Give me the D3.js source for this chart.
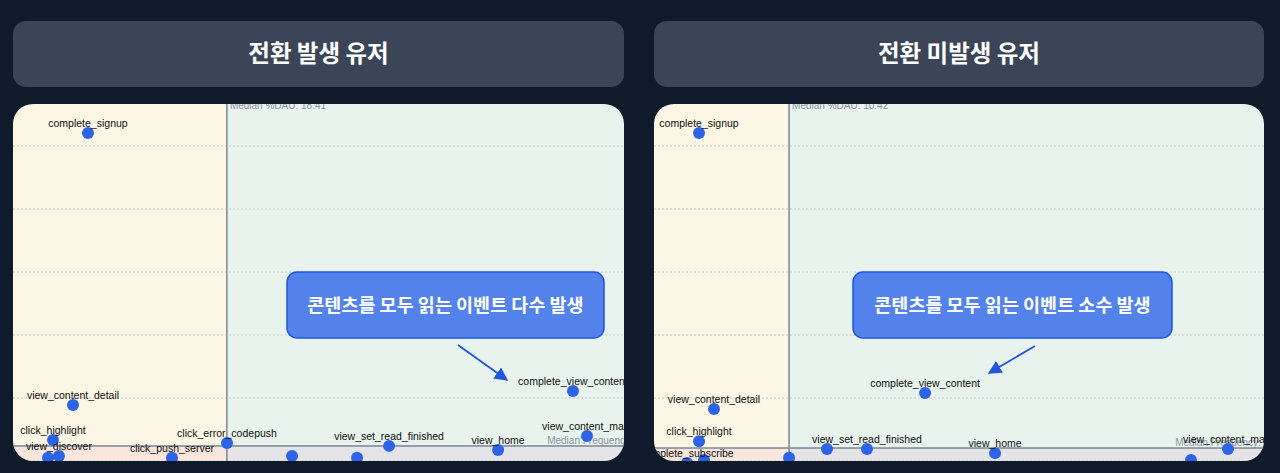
<!DOCTYPE html>
<html>
<head>
<meta charset="utf-8">
<script src="https://cdn.jsdelivr.net/npm/d3@7"></script>
<style>
  html, body { margin: 0; padding: 0; background: #0f1a2b; }
  svg { display: block; }
</style>
</head>
<body>
<svg id="chart"></svg>
<script>
// 전환 발생 유저 (converted users): event name, %DAU, frequency
var convNames = ["complete_signup", "view_content_detail", "click_highlight", "view_discover", "", "click_push_server",
  "click_error_codepush", "", "", "view_set_read_finished", "view_home", "view_content_main", "complete_view_content"];
var convDau = [6.34, 5.04, 3.30, 3.82, 2.87, 13.64, 18.42, 24.07, 29.72, 32.50, 41.97, 49.70, 48.48];
var convFreq = [12.41, 3.78, 2.67, 2.16, 2.10, 2.10, 2.57, 2.16, 2.10, 2.48, 2.35, 2.79, 4.22];
var convMedianDau = 18.41;
var convMedianFreq = 2.48;

// 전환 미발생 유저 (non-converted users)
var nonNames = ["complete_signup", "view_content_detail", "click_highlight", "complete_subscribe", "", "",
  "", "view_set_read_finished", "complete_view_content", "view_home", "", "view_content_main"];
var nonDau = [3.37, 4.54, 3.37, 2.43, 3.76, 10.42, 13.39, 16.52, 21.07, 26.55, 41.89, 44.79];
var nonFreq = [12.41, 3.65, 2.63, 1.94, 2.03, 2.10, 2.38, 2.38, 4.16, 2.25, 2.03, 2.38];
var nonMedianDau = 10.42;
var nonMedianFreq = 2.41;

var titles = ["전환 발생 유저", "전환 미발생 유저"];
var callouts = ["콘텐츠를 모두 읽는 이벤트 다수 발생", "콘텐츠를 모두 읽는 이벤트 소수 발생"];
var freqTicks = [2, 4, 6, 8, 10, 12, 14];

var W = 1280, H = 473;
var svg = d3.select("#chart").attr("width", W).attr("height", H);

var panels = [
  { names: convNames, dau: convDau, freq: convFreq, medDau: convMedianDau, medFreq: convMedianFreq,
    left: 13, right: 624, xDomain: [0, 53], xRange: [15, 625], freqLabelEnd: 655,
    box: [287, 272, 317, 66], arrow: [[458, 345], [507, 380]] },
  { names: nonNames, dau: nonDau, freq: nonFreq, medDau: nonMedianDau, medFreq: nonMedianFreq,
    left: 654, right: 1264, xDomain: [0, 48], xRange: [656, 1269], freqLabelEnd: 1283,
    box: [853, 272, 319, 66], arrow: [[1035, 346], [989, 373]] }
];

var cardTop = 104, cardBottom = 461;
var y = d3.scaleLinear().domain([2, 12]).range([461, 146]);

var defs = svg.append("defs");
defs.append("marker")
  .attr("id", "arrowhead")
  .attr("viewBox", "0 0 10 10")
  .attr("refX", 9).attr("refY", 5)
  .attr("markerWidth", 7.5).attr("markerHeight", 7.5)
  .attr("markerUnits", "strokeWidth")
  .attr("orient", "auto")
  .append("path").attr("d", "M0,0 L10,5 L0,10 Z").attr("fill", "#1f55e0");

panels.forEach(function(p, i) {
  var w = p.right - p.left;

  // header box
  svg.append("rect")
    .attr("x", p.left).attr("y", 21).attr("width", w).attr("height", 66)
    .attr("rx", 13).attr("fill", "#3b4558");
  svg.append("text")
    .attr("x", p.left + w / 2).attr("y", 62)
    .attr("text-anchor", "middle")
    .attr("font-family", "'Noto Sans CJK KR', sans-serif")
    .attr("font-weight", 700).attr("font-size", 23.5)
    .attr("fill", "#ffffff")
    .text(titles[i]);

  // card with clip
  var clipId = "clip" + i;
  defs.append("clipPath").attr("id", clipId)
    .append("rect")
    .attr("x", p.left).attr("y", cardTop).attr("width", w).attr("height", cardBottom - cardTop)
    .attr("rx", 20);

  var g = svg.append("g").attr("clip-path", "url(#" + clipId + ")");
  var x = d3.scaleLinear().domain(p.xDomain).range(p.xRange);
  var mx = x(p.medDau), my = y(p.medFreq);

  // quadrants
  var quads = [
    [p.left, cardTop, mx - p.left, my - cardTop, "#fcf6e4"],
    [mx, cardTop, p.right - mx, my - cardTop, "#e8f3ed"],
    [p.left, my, mx - p.left, cardBottom - my, "#f8e6dc"],
    [mx, my, p.right - mx, cardBottom - my, "#e4e4e8"]
  ];
  g.selectAll(".quad").data(quads).join("rect")
    .attr("class", "quad")
    .attr("x", d => d[0]).attr("y", d => d[1])
    .attr("width", d => d[2]).attr("height", d => d[3])
    .attr("fill", d => d[4]);

  // grid
  g.selectAll(".grid").data(freqTicks).join("line")
    .attr("class", "grid")
    .attr("x1", p.left).attr("x2", p.right)
    .attr("y1", d => y(d)).attr("y2", d => y(d))
    .attr("stroke", "#c4cad2").attr("stroke-width", 1)
    .attr("stroke-dasharray", "2,2");

  // median lines
  g.append("line")
    .attr("x1", mx).attr("x2", mx).attr("y1", cardTop - 10).attr("y2", cardBottom)
    .attr("stroke", "#7e8896").attr("stroke-width", 1.5);
  g.append("line")
    .attr("x1", p.left).attr("x2", p.right).attr("y1", my).attr("y2", my)
    .attr("stroke", "#7e8896").attr("stroke-width", 1.5);

  g.append("text")
    .attr("x", mx + 3).attr("y", cardTop + 5)
    .attr("font-family", "'Liberation Sans', sans-serif").attr("font-size", 10)
    .attr("fill", "#8a94a2")
    .text("Median %DAU: " + p.medDau.toFixed(2));
  g.append("text")
    .attr("x", p.freqLabelEnd).attr("y", my - 2)
    .attr("text-anchor", "end")
    .attr("font-family", "'Liberation Sans', sans-serif").attr("font-size", 10)
    .attr("fill", "#8a94a2")
    .text("Median Frequency: " + p.medFreq.toFixed(2));

  var pts = p.names.map((n, k) => ({ name: n, dau: p.dau[k], freq: p.freq[k] }));

  g.selectAll(".dot").data(pts).join("circle")
    .attr("class", "dot")
    .attr("cx", d => x(d.dau)).attr("cy", d => y(d.freq))
    .attr("r", 6)
    .attr("fill", "#2d63e7");

  g.selectAll(".lbl").data(pts.filter(d => d.name)).join("text")
    .attr("class", "lbl")
    .attr("x", d => x(d.dau)).attr("y", d => y(d.freq) - 6)
    .attr("text-anchor", "middle")
    .attr("font-family", "'Liberation Sans', sans-serif").attr("font-size", 10.5)
    .attr("fill", "#111111")
    .text(d => d.name);

  // callout
  var b = p.box;
  svg.append("rect")
    .attr("x", b[0]).attr("y", b[1]).attr("width", b[2]).attr("height", b[3])
    .attr("rx", 10)
    .attr("fill", "#5383ea").attr("stroke", "#1f55e0").attr("stroke-width", 1.5);
  svg.append("text")
    .attr("x", b[0] + b[2] / 2).attr("y", b[1] + b[3] / 2 + 6.5)
    .attr("text-anchor", "middle")
    .attr("font-family", "'Noto Sans CJK KR', sans-serif")
    .attr("font-weight", 700).attr("font-size", 18.5)
    .attr("fill", "#ffffff")
    .text(callouts[i]);
  svg.append("line")
    .attr("x1", p.arrow[0][0]).attr("y1", p.arrow[0][1])
    .attr("x2", p.arrow[1][0]).attr("y2", p.arrow[1][1])
    .attr("stroke", "#1f55e0").attr("stroke-width", 1.8)
    .attr("marker-end", "url(#arrowhead)");
});
</script>
</body>
</html>
